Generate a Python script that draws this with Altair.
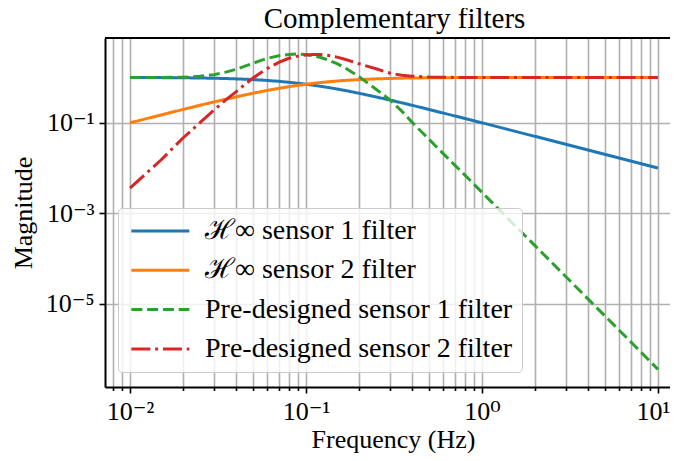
import altair as alt
import pandas as pd

FONT = "Liberation Serif, DejaVu Serif, serif"

# frequency grid (Hz)
FREQ = [0.01, 0.015, 0.02, 0.025, 0.03, 0.035, 0.04, 0.045, 0.05, 0.055, 0.06,
        0.07, 0.08, 0.09, 0.1, 0.11, 0.12, 0.13, 0.15, 0.17, 0.2, 0.25, 0.3,
        0.35, 0.4, 0.5, 0.6, 0.7, 0.85, 1.0, 1.5, 2.0, 3.0, 5.0, 7.0, 10.0]

# H-infinity sensor 1 filter
HINF_1 = [0.995, 0.989, 0.981, 0.970, 0.958, 0.944, 0.928, 0.912, 0.894, 0.876, 0.857,
          0.819, 0.781, 0.743, 0.707, 0.673, 0.640, 0.610, 0.555, 0.507, 0.447, 0.371, 0.316,
          0.275, 0.243, 0.196, 0.164, 0.141, 0.117, 0.0995, 0.0665, 0.0499, 0.0333, 0.0200, 0.0143, 0.0100]

# H-infinity sensor 2 filter
HINF_2 = [0.0995, 0.148, 0.196, 0.243, 0.287, 0.330, 0.371, 0.410, 0.447, 0.482, 0.514,
          0.573, 0.625, 0.669, 0.707, 0.740, 0.768, 0.793, 0.832, 0.862, 0.894, 0.928, 0.949,
          0.962, 0.970, 0.981, 0.986, 0.990, 0.993, 0.995, 0.998, 0.999, 0.9994, 0.9998, 0.9999, 1.0]

# Pre-designed sensor 1 filter
PRE_1 = [1.0, 1.0, 1.01, 1.06, 1.15, 1.31, 1.50, 1.77, 2.05, 2.35, 2.62,
         3.0, 3.22, 3.29, 3.2, 3.0, 2.78, 2.52, 2.02, 1.55, 1.04, 0.55, 0.32,
         0.18, 0.103, 0.043, 0.021, 0.0116, 0.0055, 0.0029, 5.9e-4, 1.93e-4, 3.97e-5, 5.4e-6, 1.46e-6, 3.6e-7]

# Pre-designed sensor 2 filter
PRE_2 = [0.0036, 0.015, 0.046, 0.10, 0.19, 0.32, 0.48, 0.70, 0.97, 1.25, 1.55,
         2.15, 2.64, 2.95, 3.12, 3.22, 3.22, 3.12, 2.8, 2.45, 2.0, 1.55, 1.24,
         1.12, 1.06, 1.02, 1.01, 1.0, 1.0, 1.0, 1.0, 1.0, 1.0, 1.0, 1.0, 1.0]

SERIES = ["ℋ∞ sensor 1 filter", "ℋ∞ sensor 2 filter",
          "Pre-designed sensor 1 filter", "Pre-designed sensor 2 filter"]
COLORS = ["#1f77b4", "#ff7f0e", "#2ca02c", "#d62728"]
DASHES = [[1, 0], [1, 0], [11, 4.8], [19, 4.8, 3, 4.8]]

X_TICKS = [0.008, 0.009,
           0.01, 0.02, 0.03, 0.04, 0.05, 0.06, 0.07, 0.08, 0.09,
           0.1, 0.2, 0.3, 0.4, 0.5, 0.6, 0.7, 0.8, 0.9,
           1, 2, 3, 4, 5, 6, 7, 8, 9, 10]
X_MAJOR = [0.01, 0.1, 1, 10]
X_LABELS = ["10⁻²", "10⁻¹", "10⁰", "10¹"]
Y_TICKS = [0.1, 0.001, 0.00001]
Y_LABELS = ["10⁻¹", "10⁻³", "10⁻⁵"]

X_DOMAIN = [0.007211, 11.70]
Y_DOMAIN = [1.466e-7, 7.41]

rows = []
for k, (name, vals) in enumerate(zip(SERIES, [HINF_1, HINF_2, PRE_1, PRE_2])):
    for f, m in zip(FREQ, vals):
        rows.append({"f": f, "m": m, "series": name, "k": k})
df = pd.DataFrame(rows)

spine = pd.DataFrame({"x0": [X_DOMAIN[0]], "x1": [X_DOMAIN[1]], "y": [Y_DOMAIN[1]]})


def label_expr(values, labels):
    parts = [f"abs(datum.value - {v}) < {v * 1e-6} ? '{lab}'" for v, lab in zip(values, labels)]
    return " : ".join(parts) + " : ''"


major_test = "indexof([" + ",".join(str(v) for v in X_MAJOR) + "], datum.value) >= 0"
last_test = f"datum.value == {X_MAJOR[-1]}"

xscale = alt.Scale(type="log", domain=X_DOMAIN, nice=False)
yscale = alt.Scale(type="log", domain=Y_DOMAIN, nice=False)

y_axis = alt.Axis(values=Y_TICKS, labelExpr=label_expr(Y_TICKS, Y_LABELS), grid=True,
                  gridColor="#b0b0b0", gridWidth=1.6, domainColor="black", domainWidth=2,
                  tickColor="black", tickWidth=1.6, tickSize=6, labelFont=FONT,
                  labelFontSize=26, labelColor="black", labelPadding=5,
                  title="Magnitude", titleFont=FONT, titleFontSize=26,
                  titleFontWeight="normal", titleColor="black", titlePadding=9)

x_axis = alt.Axis(values=X_TICKS, labelExpr=label_expr(X_MAJOR, X_LABELS), grid=True,
                  gridColor="#b0b0b0", gridWidth=1.6, domainColor="black", domainWidth=2,
                  tickColor="black", tickWidth=1.6,
                  tickSize={"condition": {"test": major_test, "value": 6}, "value": 3.5},
                  labelOffset={"condition": {"test": last_test, "value": -5}, "value": 0},
                  labelFont=FONT, labelFontSize=26, labelColor="black", labelPadding=5,
                  labelFlush=False, labelOverlap=False,
                  title="Frequency (Hz)", titleFont=FONT, titleFontSize=26,
                  titleFontWeight="normal", titleColor="black", titlePadding=2, titleX=288)

legend = alt.Legend(orient="none", legendX=13, legendY=170,
                    fillColor="rgba(255,255,255,0.8)", strokeColor="#cccccc",
                    cornerRadius=4, padding=9, symbolType="M-1,0H5", symbolSize=374,
                    symbolStrokeWidth=3, symbolFillColor="transparent",
                    labelFont=FONT, labelFontSize=28,
                    labelColor="black", labelOffset=50, rowPadding=11.3, labelLimit=600)

lines = alt.Chart(df).mark_line(strokeWidth=3, clip=True).encode(
    x=alt.X("f:Q", scale=xscale, axis=x_axis),
    y=alt.Y("m:Q", scale=yscale, axis=y_axis),
    color=alt.Color("series:N", scale=alt.Scale(domain=SERIES, range=COLORS),
                    legend=legend, title=None),
    strokeDash=alt.StrokeDash("series:N", scale=alt.Scale(domain=SERIES, range=DASHES),
                              legend=legend, title=None),
    order=alt.Order("f:Q"),
)

# top spine of the axes box, drawn along the upper edge of the y domain
top_spine = alt.Chart(spine).mark_rule(color="black", strokeWidth=2).encode(
    x=alt.X("x0:Q", scale=xscale),
    x2="x1:Q",
    y=alt.Y("y:Q", scale=yscale),
)

chart = alt.layer(lines, top_spine).properties(
    width=565,
    height=349,
    autosize=alt.AutoSizeParams(type="none"),
    padding={"left": 97, "top": 30, "right": 0, "bottom": 66},
    title=alt.Title("Complementary filters", font=FONT, fontSize=29, fontWeight="normal",
                    color="black", anchor="middle", frame="group", baseline="alphabetic",
                    offset=-20, dx=7),
).configure_view(stroke=None).configure(background="white")

chart.save("out.html", embed_options={"renderer": "svg", "actions": False})
